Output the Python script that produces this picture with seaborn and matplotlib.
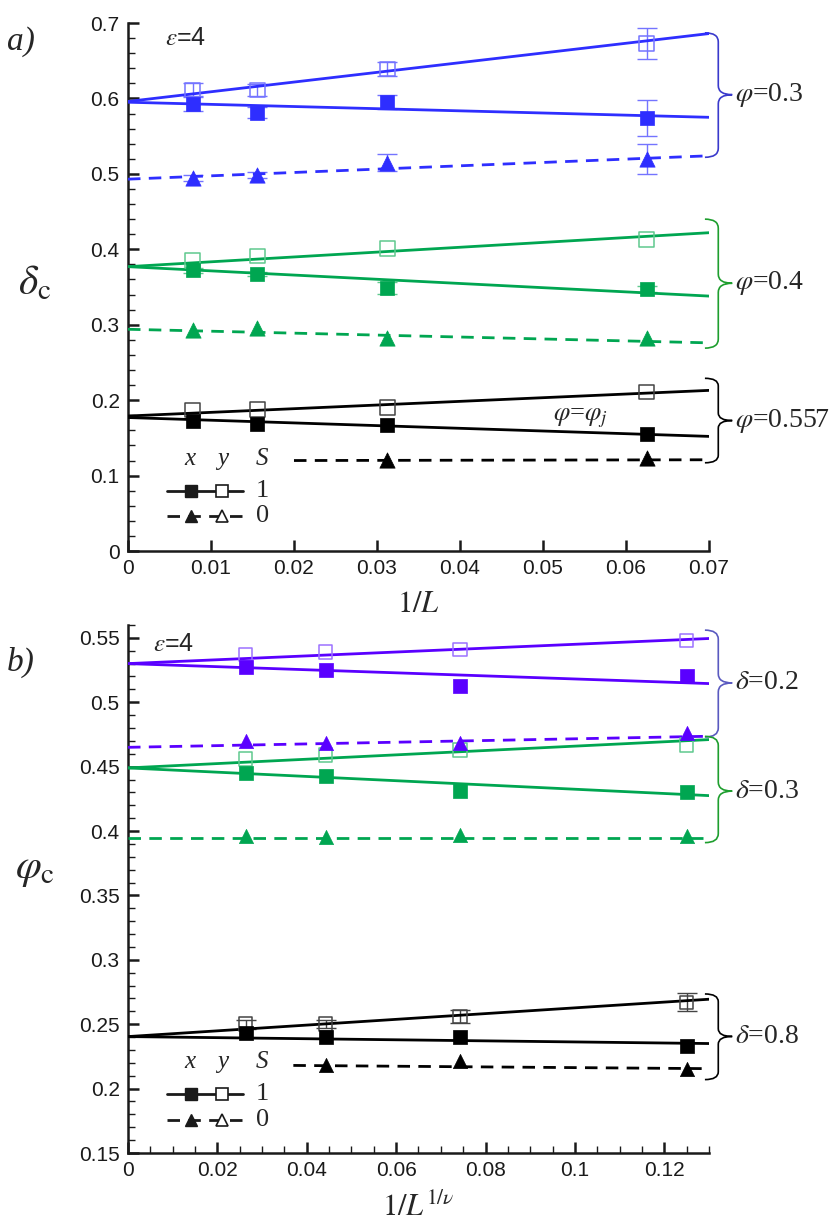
import numpy as np
import matplotlib
matplotlib.use("Agg")
import matplotlib.pyplot as plt
import seaborn as sns
from matplotlib.path import Path
from matplotlib.patches import PathPatch
from matplotlib.lines import Line2D
from matplotlib.ticker import MultipleLocator, FuncFormatter
import matplotlib.transforms as mtransforms

sns.set_theme(style='ticks')
plt.rcParams['font.family'] = ['Liberation Sans', 'DejaVu Sans']
plt.rcParams['mathtext.fontset'] = 'stix'

## data
# panel a: 1/L
inv_L = [0.0078, 0.0156, 0.03125, 0.0625]
fit_a_x = [0.0, 0.07]
fit_a_x_s0_black = [0.02, 0.07]

phi03_x = [0.593, 0.581, 0.595, 0.574]
phi03_x_err = [0.010, 0.007, 0.009, 0.024]
phi03_y = [0.611, 0.611, 0.639, 0.673]
phi03_y_err = [0.009, 0.008, 0.009, 0.021]
phi03_s0 = [0.494, 0.499, 0.515, 0.520]
phi03_s0_err = [0.004, 0.004, 0.011, 0.020]
phi03_fit_x = [0.595, 0.575]
phi03_fit_y = [0.596, 0.686]
phi03_fit_s0 = [0.493, 0.524]

phi04_x = [0.372, 0.367, 0.349, 0.348]
phi04_x_err = [0.003, 0.003, 0.008, 0.004]
phi04_y = [0.385, 0.391, 0.401, 0.413]
phi04_s0 = [0.293, 0.296, 0.283, 0.282]
phi04_fit_x = [0.377, 0.338]
phi04_fit_y = [0.377, 0.422]
phi04_fit_s0 = [0.294, 0.276]

phij_x = [0.173, 0.168, 0.167, 0.155]
phij_y = [0.187, 0.188, 0.190, 0.211]
phij_s0 = [np.nan, np.nan, 0.121, 0.124]
phij_fit_x = [0.177, 0.152]
phij_fit_y = [0.179, 0.213]
phij_fit_s0 = [0.120, 0.121]

# panel b: 1/L^(1/nu)
inv_Lnu = [0.0263, 0.0442, 0.0743, 0.125]
fit_b_x = [0.0, 0.13]
fit_b_x_s0_black = [0.037, 0.13]

d02_x = [0.527, 0.525, 0.513, 0.520]
d02_y = [0.537, 0.539, 0.541, 0.548]
d02_s0 = [0.470, 0.468, 0.468, 0.476]
d02_fit_x = [0.530, 0.5145]
d02_fit_y = [0.530, 0.5495]
d02_fit_s0 = [0.465, 0.4736]

d03_x = [0.445, 0.443, 0.431, 0.430]
d03_y = [0.456, 0.459, 0.463, 0.467]
d03_s0 = [0.396, 0.395, 0.397, 0.396]
d03_fit_x = [0.449, 0.4275]
d03_fit_y = [0.449, 0.471]
d03_fit_s0 = [0.3945, 0.3945]

d08_x = [0.2435, 0.240, 0.240, 0.233]
d08_y = [0.250, 0.250, 0.256, 0.267]
d08_y_err = [0.0035, 0.003, 0.005, 0.007]
d08_s0 = [np.nan, 0.218, 0.2215, 0.2155]
d08_fit_x = [0.2404, 0.235]
d08_fit_y = [0.2404, 0.2694]
d08_fit_s0 = [0.218, 0.2155]

BLUE, BLUE_L = '#2e2eff', '#7474ff'
GREEN, GREEN_L = '#00a651', '#5fc98e'
PURPLE, PURPLE_L = '#5a00ff', '#9c72ff'
BLACK, BLACK_L = '#000000', '#444444'
DASH = (0, (4.5, 3))
SERIF = ['Liberation Serif', 'DejaVu Serif']


def draw_group(ax, xs, fx, fx_s0, vx, vy, vs0, fit_x, fit_y, fit_s0, col, col_l, ms,
               ex=None, ey=None, es0=None):
    sns.lineplot(x=fx, y=fit_y, color=col, lw=2, ax=ax, zorder=3)
    sns.lineplot(x=fx, y=fit_x, color=col, lw=2, ax=ax, zorder=3)
    sns.lineplot(x=fx_s0, y=fit_s0, color=col, lw=2, linestyle=DASH, ax=ax, zorder=3)
    for vals, err in ((vx, ex), (vy, ey), (vs0, es0)):
        if err is not None:
            ax.errorbar(xs, vals, yerr=err, fmt='none', ecolor=col_l, elinewidth=1,
                        capsize=7, capthick=1, zorder=2)
    sns.scatterplot(x=xs, y=vy, marker='s', s=ms, facecolor='none', edgecolor=col_l,
                    linewidth=1.1, ax=ax, zorder=4)
    sns.scatterplot(x=xs, y=vx, marker='s', s=ms, color=col, edgecolor=col,
                    linewidth=0.5, ax=ax, zorder=5)
    sns.scatterplot(x=xs, y=vs0, marker='^', s=ms * 1.1, color=col, edgecolor=col,
                    linewidth=0.5, ax=ax, zorder=5)


def brace(ax, ytop, ybot, ymid, color, label, ry):
    trans = mtransforms.blended_transform_factory(ax.transAxes, ax.transData)
    x0, x1, x2 = 0.993, 1.016, 1.04
    verts = [(x0, ytop), (x1, ytop), (x1, ytop - ry),
             (x1, ymid + ry), (x1, ymid), (x2, ymid),
             (x1, ymid), (x1, ymid - ry),
             (x1, ybot + ry), (x1, ybot), (x0, ybot)]
    codes = [Path.MOVETO, Path.CURVE3, Path.CURVE3,
             Path.LINETO, Path.CURVE3, Path.CURVE3,
             Path.CURVE3, Path.CURVE3,
             Path.LINETO, Path.CURVE3, Path.CURVE3]
    ax.add_patch(PathPatch(Path(verts, codes), fill=False, edgecolor=color, lw=1.2,
                           transform=trans, clip_on=False))
    ax.text(x2 + 0.004, ymid, label, transform=trans, ha='left', va='center',
            fontsize=20, family=SERIF)


def legend_block(ax, y_head, y1, y2):
    tr = ax.transAxes
    for xp, t in ((0.107, 'x'), (0.163, 'y'), (0.231, 'S')):
        ax.text(xp, y_head, t, transform=tr, ha='center', va='center',
                fontsize=18, style='italic', family=SERIF)
    ax.add_line(Line2D([0.067, 0.198], [y1, y1], transform=tr, color='k', lw=2))
    ax.add_line(Line2D([0.067, 0.198], [y2, y2], transform=tr, color='k', lw=2,
                       linestyle=DASH))
    ax.add_line(Line2D([0.108], [y1], transform=tr, marker='s', ms=8, color='k', lw=0))
    ax.add_line(Line2D([0.162], [y1], transform=tr, marker='s', ms=8, mfc='white',
                       mec='k', mew=1.2, lw=0))
    ax.add_line(Line2D([0.108], [y2], transform=tr, marker='^', ms=8, color='k', lw=0))
    ax.add_line(Line2D([0.162], [y2], transform=tr, marker='^', ms=8, mfc='white',
                       mec='k', mew=1.2, lw=0))
    ax.text(0.232, y1, '1', transform=tr, ha='center', va='center', fontsize=19,
            family=SERIF)
    ax.text(0.232, y2, '0', transform=tr, ha='center', va='center', fontsize=19,
            family=SERIF)


def style_axes(ax):
    sns.despine(ax=ax)
    for s in ('left', 'bottom'):
        ax.spines[s].set_linewidth(1.8)
        ax.spines[s].set_color('k')
    ax.tick_params(which='major', direction='in', length=8, width=1.8, labelsize=15,
                   colors='k', pad=6)
    ax.tick_params(which='minor', direction='in', length=5, width=1, colors='k')
    ax.xaxis.set_major_formatter(FuncFormatter(lambda v, _: f'{v:g}'))
    ax.yaxis.set_major_formatter(FuncFormatter(lambda v, _: f'{v:g}'))
    ax.grid(False)


fig = plt.figure(figsize=(8.3, 12.24), dpi=100)
ax1 = fig.add_axes([0.1542, 0.5498, 0.70, 0.4314])
ax2 = fig.add_axes([0.1542, 0.058, 0.70, 0.4314])

## panel a
draw_group(ax1, inv_L, fit_a_x, fit_a_x, phi03_x, phi03_y, phi03_s0,
           phi03_fit_x, phi03_fit_y, phi03_fit_s0, BLUE, BLUE_L, 110,
           ex=phi03_x_err, ey=phi03_y_err, es0=phi03_s0_err)
draw_group(ax1, inv_L, fit_a_x, fit_a_x, phi04_x, phi04_y, phi04_s0,
           phi04_fit_x, phi04_fit_y, phi04_fit_s0, GREEN, GREEN_L, 110, ex=phi04_x_err)
draw_group(ax1, inv_L, fit_a_x, fit_a_x_s0_black, phij_x, phij_y, phij_s0,
           phij_fit_x, phij_fit_y, phij_fit_s0, BLACK, BLACK_L, 110)

ax1.set_xlim(0, 0.07)
ax1.set_ylim(0, 0.7)
ax1.xaxis.set_major_locator(MultipleLocator(0.01))
ax1.yaxis.set_major_locator(MultipleLocator(0.1))
ax1.yaxis.set_minor_locator(MultipleLocator(0.02))
style_axes(ax1)
ax1.set_xlabel(r'$1/L$', fontsize=22)
ax1.xaxis.set_label_coords(0.5, -0.072)
ax1.set_ylabel(r'$\delta_{\rm c}$', fontsize=30, rotation=0)
ax1.yaxis.set_label_coords(-0.16, 0.47)
ax1.text(0.0045, 0.68, r'$\varepsilon$=4', fontsize=18, va='center')
ax1.text(0.0512, 0.176, r'$\varphi$=$\varphi_j$', fontsize=19, va='center',
         family=SERIF)
brace(ax1, 0.687, 0.522, 0.605, '#3a3acc', r'$\varphi$=0.3', 0.012)
brace(ax1, 0.440, 0.269, 0.355, '#1e9e2e', r'$\varphi$=0.4', 0.012)
brace(ax1, 0.229, 0.117, 0.173, '#000000', r'$\varphi$=0.557', 0.010)
legend_block(ax1, 0.174, 0.114, 0.066)

## panel b
draw_group(ax2, inv_Lnu, fit_b_x, fit_b_x, d02_x, d02_y, d02_s0,
           d02_fit_x, d02_fit_y, d02_fit_s0, PURPLE, PURPLE_L, 95)
draw_group(ax2, inv_Lnu, fit_b_x, fit_b_x, d03_x, d03_y, d03_s0,
           d03_fit_x, d03_fit_y, d03_fit_s0, GREEN, GREEN_L, 95)
draw_group(ax2, inv_Lnu, fit_b_x, fit_b_x_s0_black, d08_x, d08_y, d08_s0,
           d08_fit_x, d08_fit_y, d08_fit_s0, BLACK, BLACK_L, 95, ey=d08_y_err)

ax2.set_xlim(0, 0.13)
ax2.set_ylim(0.15, 0.56)
ax2.xaxis.set_major_locator(MultipleLocator(0.02))
ax2.xaxis.set_minor_locator(MultipleLocator(0.005))
ax2.yaxis.set_major_locator(MultipleLocator(0.05))
ax2.yaxis.set_minor_locator(MultipleLocator(0.01))
style_axes(ax2)
ax2.set_xlabel(r'$1/L^{1/\nu}$', fontsize=22)
ax2.xaxis.set_label_coords(0.5, -0.075)
ax2.set_ylabel(r'$\varphi_{\rm c}$', fontsize=30, rotation=0)
ax2.yaxis.set_label_coords(-0.16, 0.5)
ax2.text(0.0056, 0.545, r'$\varepsilon$=4', fontsize=18, va='center')
brace(ax2, 0.556, 0.473, 0.515, '#5a5ac0', r'$\delta$=0.2', 0.007)
brace(ax2, 0.4735, 0.391, 0.431, '#1e9e2e', r'$\delta$=0.3', 0.007)
brace(ax2, 0.2735, 0.207, 0.2405, '#000000', r'$\delta$=0.8', 0.006)
legend_block(ax2, 0.172, 0.112, 0.063)

fig.text(0.008, 0.966, 'a)', fontsize=24, style='italic', va='center', family=SERIF)
fig.text(0.008, 0.459, 'b)', fontsize=24, style='italic', va='center', family=SERIF)

fig.savefig('out.png', dpi=100)
